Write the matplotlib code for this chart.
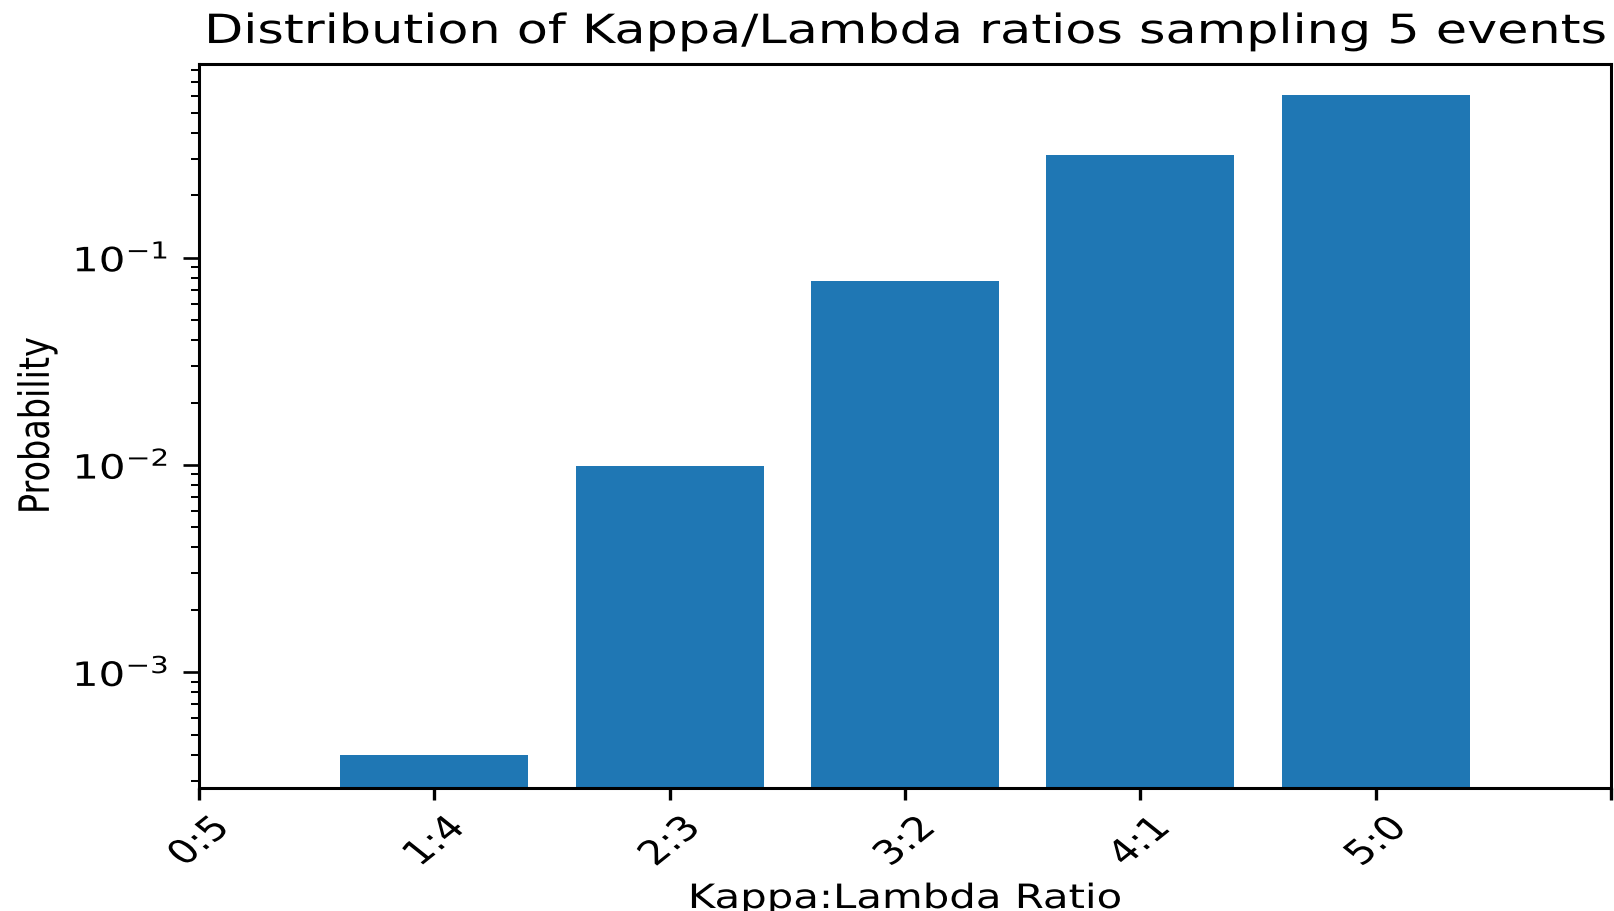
import matplotlib
matplotlib.use("Agg")
import matplotlib.pyplot as plt
from matplotlib.patheffects import AbstractPathEffect
from matplotlib.transforms import Affine2D

# ---- data ----
categories = ["0:5", "1:4", "2:3", "3:2", "4:1", "5:0"]
probabilities = [0.0, 4.0e-4, 0.0099, 0.077, 0.312, 0.611]
title = "Distribution of Kappa/Lambda ratios sampling 5 events"
xlabel = "Kappa:Lambda Ratio"
ylabel = "Probability"


class HStretch(AbstractPathEffect):
    """Stretch text horizontally in display space about an anchor."""
    def __init__(self, sx=1.25, anchor="center"):
        super().__init__()
        self._sx = sx
        self._anchor = anchor

    def draw_path(self, renderer, gc, tpath, affine, rgbFace=None):
        bb = tpath.get_extents(affine)
        if self._anchor == "right":
            cx = bb.x1
        elif self._anchor == "left":
            cx = bb.x0
        else:
            cx = 0.5 * (bb.x0 + bb.x1)
        t = affine + Affine2D().translate(-cx, 0).scale(self._sx, 1.0).translate(cx, 0)
        renderer.draw_path(gc, tpath, t, rgbFace)


SX = 1.25
FS = 24.1

fig = plt.figure(figsize=(16.14, 9.11), dpi=100)
ax = fig.add_axes([199 / 1614, 1 - 787.5 / 911, 1412 / 1614, 723.5 / 911])

positions = list(range(len(categories)))
ax.bar(positions, probabilities, width=0.8, color="#1f77b4")
ax.set_yscale("log")
ax.set_ylim(2.78e-4, 0.859)
ax.set_xlim(0, len(categories))
ax.set_xticks(list(range(len(categories) + 1)))
ax.set_xticklabels(categories + [""], rotation=45, fontsize=FS)

for s in ax.spines.values():
    s.set_linewidth(2.2)

ax.tick_params(axis="x", which="major", length=8.4, width=2.4, pad=8.4, labelsize=FS)
ax.tick_params(axis="y", which="major", length=11.5, width=1.9, pad=10.6, labelsize=FS)
ax.tick_params(axis="y", which="minor", length=6.0, width=1.45)

t = ax.set_title(title, fontsize=29, pad=15.1)
t.set_path_effects([HStretch(1.262, "center")])
xl = ax.set_xlabel(xlabel, fontsize=FS)
ax.xaxis.set_label_coords(0.5, -0.1306)
xl.set_path_effects([HStretch(SX, "center")])
yl = ax.set_ylabel(ylabel, fontsize=FS)
ax.yaxis.set_label_coords(-0.103, 0.5)
yl.set_path_effects([HStretch(SX, "center")])

fig.canvas.draw()
for lab in ax.get_xticklabels():
    lab.set_path_effects([HStretch(SX, "center")])
for lab in ax.get_yticklabels() + ax.get_yticklabels(minor=True):
    lab.set_path_effects([HStretch(SX, "right")])

fig.savefig("out.png", dpi=100)
